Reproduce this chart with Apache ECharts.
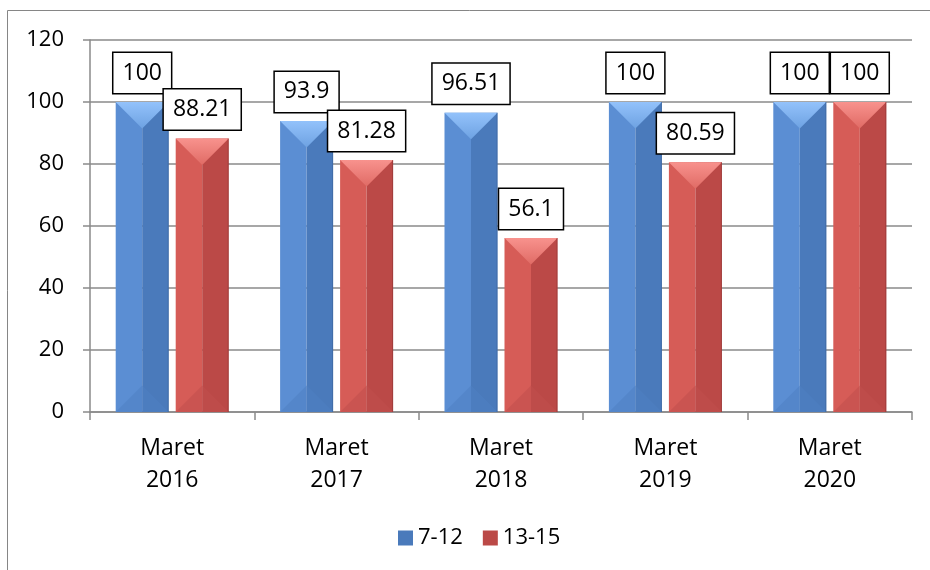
<!DOCTYPE html>
<html>
<head>
<meta charset="utf-8">
<title>Maret 2016 - 2020</title>
<style>
  html, body { margin: 0; padding: 0; background: #fff; }
  #chart { width: 930px; height: 570px; }
</style>
<script src="https://cdn.jsdelivr.net/npm/echarts@6/dist/echarts.min.js"></script>
</head>
<body>
<div id="chart"></div>
<script>
// Values.
var CATEGORIES = ["Maret\n2016", "Maret\n2017", "Maret\n2018", "Maret\n2019", "Maret\n2020"];
var SERIES_NAMES = ["7-12", "13-15"];
var VALUES_7_12 = [100, 93.9, 96.51, 100, 100];
var VALUES_13_15 = [88.21, 81.28, 56.1, 80.59, 100];

(function () {
  "use strict";

  var FONT = "'Open Sans', 'Liberation Sans', sans-serif";
  var BAR_W = 53;        // px, matches barWidth below
  var BAR_OFFSET = 30;   // half of (bar + gap), for the bevel overlay

  // Bevelled "Excel 2007" look: light left face, darker right face,
  // a pale V on top and a slightly darker wedge at the foot.
  var LOOKS = [
    { left: "#5b8ed3", right: "#4a7abb", topA: "#93c2fb", topB: "#6ea2e2", foot: "#4f80c2", edge: "#3b6399" },
    { left: "#d65c57", right: "#bb4947", topA: "#f8928d", topB: "#e06b65", foot: "#c14f4c", edge: "#8f3434" }
  ];

  function bevel(look, offset) {
    return function (params, api) {
      var top = api.coord([api.value(0), api.value(1)]);
      var base = api.coord([api.value(0), 0]);
      var xm = top[0] + offset;
      var x0 = xm - BAR_W / 2, x1 = xm + BAR_W / 2;
      var y0 = top[1], y1 = base[1];
      var d = BAR_W / 2;
      return {
        type: "group",
        children: [
          { type: "rect", shape: { x: x0, y: y0, width: xm - x0, height: y1 - y0 }, style: { fill: look.left } },
          { type: "rect", shape: { x: xm, y: y0, width: x1 - xm, height: y1 - y0 }, style: { fill: look.right } },
          { type: "polygon", shape: { points: [[x0, y1], [x1, y1], [xm, y1 - d]] }, style: { fill: look.foot, opacity: 0.55 } },
          { type: "polygon", shape: { points: [[x0, y0], [x1, y0], [xm, y0 + d]] },
            style: { fill: new echarts.graphic.LinearGradient(0, 0, 0, 1, [
              { offset: 0, color: look.topA }, { offset: 1, color: look.topB }]) } },
          { type: "line", shape: { x1: x1 - 0.5, y1: y0, x2: x1 - 0.5, y2: y1 }, style: { stroke: look.edge, lineWidth: 1, opacity: 0.6 } }
        ]
      };
    };
  }

  function pairs(values) {
    return values.map(function (v, i) { return [i, v]; });
  }

  var labelStyle = {
    show: true, position: "top", distance: 9,
    color: "#000", fontSize: 23, fontFamily: FONT, lineHeight: 24,
    backgroundColor: "#fff", borderColor: "#000", borderWidth: 1.5,
    padding: [8, 9, 8, 9]
  };

  // Transparent bars only carry the boxed value labels; the custom series
  // underneath paint the bevelled bodies at the same positions.
  function labelBars(name, values) {
    return {
      name: name, type: "bar", z: 5,
      barWidth: BAR_W, barGap: "13.2%",
      itemStyle: { color: "rgba(0,0,0,0)" },
      label: labelStyle,
      emphasis: { disabled: true },
      data: values
    };
  }

  function bodies(id, values, look, offset) {
    return {
      name: id, type: "custom", z: 2, silent: true,
      renderItem: bevel(look, offset),
      encode: { x: 0, y: 1 },
      data: pairs(values)
    };
  }

  var chart = echarts.init(document.getElementById("chart"), null, { renderer: "canvas" });
  var axisGray = "#8a8a8a";

  chart.setOption({
    animation: false,
    textStyle: { fontFamily: FONT, color: "#000" },
    grid: { left: 90, right: 18, top: 40, bottom: 158 },
    graphic: [{
      type: "rect", silent: true, z: -1,
      shape: { x: 7.5, y: 10.5, width: 1000, height: 1000 },
      style: { fill: null, stroke: "#868686", lineWidth: 1 }
    }],
    legend: {
      data: [
        { name: SERIES_NAMES[0], itemStyle: { color: LOOKS[0].right } },
        { name: SERIES_NAMES[1], itemStyle: { color: LOOKS[1].right } }
      ],
      left: 393, top: 522,
      icon: "rect", itemWidth: 15, itemHeight: 15, itemGap: 20,
      textStyle: { fontSize: 22, fontFamily: FONT, color: "#000", padding: [0, 0, 0, 0] }
    },
    xAxis: {
      type: "category", data: CATEGORIES,
      axisLine: { lineStyle: { color: axisGray, width: 1.5 } },
      axisTick: { show: true, length: 8, alignWithLabel: false, lineStyle: { color: axisGray, width: 1.5 } },
      axisLabel: { color: "#000", fontSize: 23, lineHeight: 32, margin: 20, fontFamily: FONT }
    },
    yAxis: {
      type: "value", min: 0, max: 120, interval: 20,
      axisLine: { show: true, lineStyle: { color: axisGray, width: 1.5 } },
      axisTick: { show: true, length: 7, inside: false, lineStyle: { color: axisGray, width: 1.5 } },
      axisLabel: { color: "#000", fontSize: 22, margin: 26, fontFamily: FONT },
      splitLine: { lineStyle: { color: axisGray, width: 1.5 } }
    },
    series: [
      bodies("body-7-12", VALUES_7_12, LOOKS[0], -BAR_OFFSET),
      bodies("body-13-15", VALUES_13_15, LOOKS[1], BAR_OFFSET),
      labelBars(SERIES_NAMES[0], VALUES_7_12),
      labelBars(SERIES_NAMES[1], VALUES_13_15)
    ]
  });
})();
</script>
</body>
</html>
